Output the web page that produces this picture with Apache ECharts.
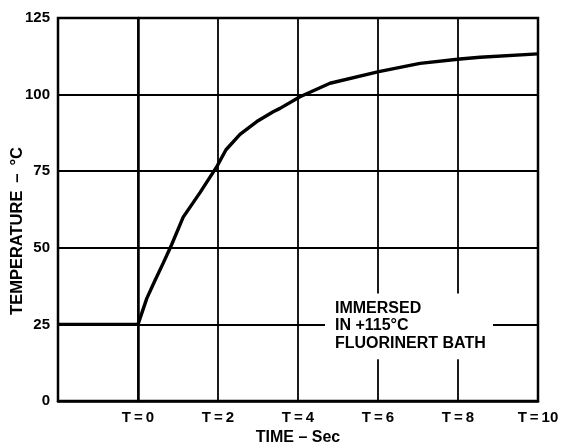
<!DOCTYPE html>
<html>
<head>
<meta charset="utf-8">
<script src="https://cdn.jsdelivr.net/npm/echarts@6/dist/echarts.min.js"></script>
<style>
html,body{margin:0;padding:0;background:#fff;}
#c{width:561px;height:443px;}
</style>
</head>
<body>
<div id="c"></div>
<script>
// Data
var timeSec = [-2, 0, 0.22, 0.43, 0.63, 0.84, 1.13, 1.55, 1.97, 2.2, 2.55, 2.97, 3.38, 3.55, 4.05, 4.8, 6.02, 7.05, 8.05, 8.55, 10];
var tempC   = [25, 25, 33.5, 39.5, 45, 51, 60, 68, 76.5, 82, 87, 91.2, 94.4, 95.5, 99.3, 103.7, 107.5, 110.2, 111.6, 112.2, 113.3];
var xTicks = [-2, 0, 2, 4, 6, 8, 10];
var yTicks = [0, 25, 50, 75, 100, 125];
var xTitle = 'TIME \u2013 Sec';
var yTitle = 'TEMPERATURE \u2009\u2013\u2009 \u00B0C';
var noteLines = ['IMMERSED', 'IN +115\u00B0C', 'FLUORINERT BATH'];
var noteBox = {x0: 4.675, x1: 8.875, y0: 13.6, y1: 35.1};

var FONT = '"Liberation Sans", Arial, Helvetica, sans-serif';
var chart = echarts.init(document.getElementById('c'), null, {renderer: 'canvas'});
var pts = timeSec.map(function (t, i) { return [t, tempC[i]]; });

var option = {
  animation: false,
  backgroundColor: '#fff',
  grid: {left: 58, top: 18, right: 23, bottom: 42, outerBoundsMode: 'none', containLabel: false,
         show: true, borderColor: '#000', borderWidth: 2.5, backgroundColor: 'transparent'},
  xAxis: {
    type: 'value', min: xTicks[0], max: xTicks[xTicks.length - 1], interval: 2,
    name: xTitle, nameLocation: 'middle', nameGap: 28,
    nameTextStyle: {color: '#000', fontFamily: FONT, fontWeight: 'bold', fontSize: 16},
    axisLine: {show: true, lineStyle: {color: '#000', width: 2.5}},
    axisTick: {show: false},
    axisLabel: {
      color: '#000', fontFamily: FONT, fontWeight: 'bold', fontSize: 15, margin: 9,
      formatter: function (v) { return v === xTicks[0] ? '' : 'T\u2009=\u2009' + v; }
    },
    splitLine: {show: true, lineStyle: {color: '#000', width: 1.8}}
  },
  yAxis: {
    type: 'value', min: yTicks[0], max: yTicks[yTicks.length - 1], interval: 25,
    axisLine: {show: true, lineStyle: {color: '#000', width: 2.5}},
    axisTick: {show: false},
    axisLabel: {color: '#000', fontFamily: FONT, fontWeight: 'bold', fontSize: 15, margin: 8},
    splitLine: {show: true, lineStyle: {color: '#000', width: 1.8}}
  },
  series: [{
    type: 'line', data: pts, showSymbol: false, smooth: false,
    lineStyle: {color: '#000', width: 3.4}, z: 3
  }]
};
chart.setOption(option);

var p0 = chart.convertToPixel({gridIndex: 0}, [noteBox.x0, noteBox.y1]);
var p1 = chart.convertToPixel({gridIndex: 0}, [noteBox.x1, noteBox.y0]);
chart.setOption({
  graphic: [
    {type: 'rect', shape: {x: p0[0], y: p0[1], width: p1[0] - p0[0], height: p1[1] - p0[1]},
     style: {fill: '#fff'}, z: 10},
    {type: 'text', x: p0[0] + 10, y: p0[1] + 6, z: 11,
     style: {text: noteLines.join('\n'), fill: '#000', font: 'bold 16px ' + FONT, lineHeight: 17.5}},
    {type: 'text', x: 17, y: 231, rotation: Math.PI / 2, z: 11,
     style: {text: yTitle, fill: '#000', font: 'bold 16.5px ' + FONT, align: 'center', verticalAlign: 'middle'}}
  ]
});
</script>
</body>
</html>
